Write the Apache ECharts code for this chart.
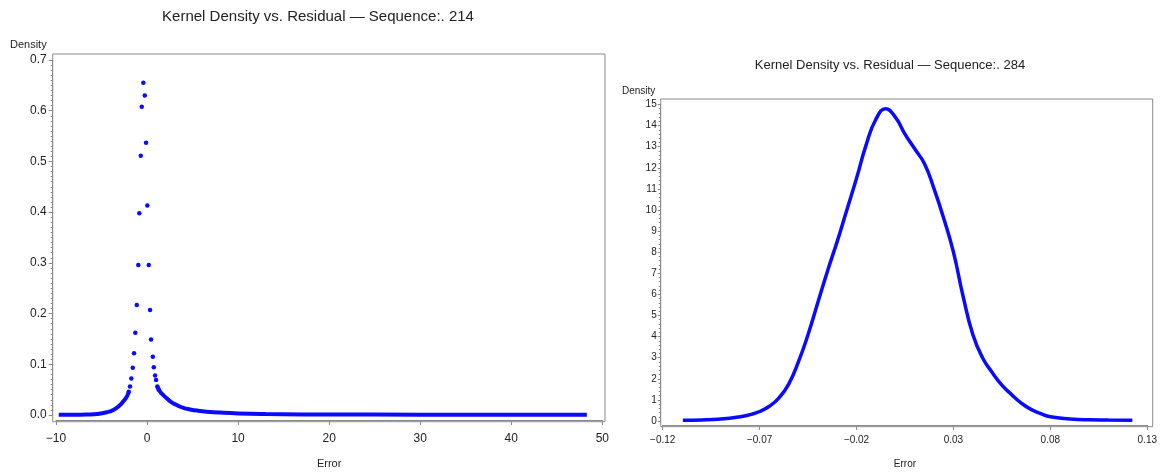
<!DOCTYPE html>
<html>
<head>
<meta charset="UTF-8">
<title>Kernel Density vs. Residual</title>
<style>
  html, body { margin: 0; padding: 0; background: #fff; }
  .box { width: 1160px; height: 474px; }
</style>
</head>
<body>
<div class="box" id="box"></div>
<script src="https://cdn.jsdelivr.net/npm/echarts@6/dist/echarts.min.js"></script>
<script>
// ---- Sequence 214 (left panel) ----
// separate dots around the peak [error, density]
var peak214 = [
  [-2.01, 0.046], [-1.87, 0.056], [-1.73, 0.072], [-1.57, 0.093], [-1.43, 0.122],
  [-1.29, 0.162], [-1.13, 0.217], [-0.96, 0.296], [-0.85, 0.398], [-0.69, 0.511],
  [-0.58, 0.608], [-0.41, 0.655], [-0.25, 0.630], [-0.11, 0.537], [0.03, 0.413],
  [0.19, 0.296], [0.33, 0.207], [0.44, 0.149], [0.63, 0.115], [0.74, 0.094],
  [0.88, 0.078], [0.99, 0.069], [1.13, 0.056], [1.28, 0.050]
];
// dense tails (dots so close they read as a thick line)
var leftTail214 = [
  [-9.7, 0.0005], [-8.0, 0.0005], [-6.5, 0.001], [-5.5, 0.002], [-4.43, 0.0053],
  [-3.7, 0.0098], [-2.97, 0.0196], [-2.6, 0.027], [-2.23, 0.036], [-2.01, 0.046]
];
var rightTail214 = [
  [1.13, 0.056], [1.43, 0.046], [1.8, 0.039], [2.16, 0.033], [2.7, 0.025],
  [3.26, 0.0196], [4.0, 0.014], [4.73, 0.011], [5.6, 0.0085], [6.56, 0.0066],
  [8.02, 0.0047], [10, 0.003], [13, 0.0018], [17, 0.0012], [25, 0.0008],
  [35, 0.0006], [48.3, 0.0005]
];
var xTicks214 = [-10, 0, 10, 20, 30, 40, 50];
var yTicks214 = [0, 0.1, 0.2, 0.3, 0.4, 0.5, 0.6, 0.7];

// ---- Sequence 284 (right panel) ----
var errors284 = [
  -0.1096, -0.100, -0.090, -0.080, -0.075, -0.070, -0.065, -0.060, -0.055, -0.050,
  -0.045, -0.040, -0.035, -0.030, -0.025, -0.020, -0.015, -0.010, -0.005, 0.000,
  0.005, 0.010, 0.015, 0.020, 0.025, 0.030, 0.035, 0.040, 0.045, 0.050,
  0.055, 0.060, 0.065, 0.070, 0.075, 0.080, 0.090, 0.100, 0.110, 0.1223
];
var density284 = [
  0.04, 0.05, 0.09, 0.2, 0.3, 0.45, 0.7, 1.1, 1.75, 2.8,
  4.1, 5.6, 7.1, 8.5, 10.0, 11.5, 13.1, 14.3, 14.8, 14.4,
  13.6, 12.9, 12.2, 11.0, 9.6, 8.0, 5.9, 4.1, 3.0, 2.3,
  1.7, 1.25, 0.85, 0.55, 0.35, 0.2, 0.1, 0.06, 0.05, 0.04
];
var xTicks284 = [-0.12, -0.07, -0.02, 0.03, 0.08, 0.13];
var yTicks284 = [0, 1, 2, 3, 4, 5, 6, 7, 8, 9, 10, 11, 12, 13, 14, 15];

var titles = ['Kernel Density vs. Residual \u2014 Sequence:. 214',
              'Kernel Density vs. Residual \u2014 Sequence:. 284'];

var FONT = '"Liberation Sans", Arial, sans-serif';
var AXIS_GRAY = '#8a8a8a';
var TEXT = '#222';
var BLUE = '#0a0aff';

function fmt(v, d) {
  var s = Math.abs(v).toFixed(d);
  return (v < -1e-9 ? '\u2212' : '') + s;
}

// right panel: shift x so the axis starts at 0 and ticks land on -0.12, -0.07, ...
var shift284 = -xTicks284[0];
var curve284 = errors284.map(function (e, i) { return [e + shift284, density284[i]]; });

var myChart = echarts.init(document.getElementById('box'));

function hiddenAxis(grid) {
  return { type: 'value', gridIndex: grid, show: false, min: 0, max: 1 };
}

var option = {
  backgroundColor: '#fff',
  animation: false,
  textStyle: { fontFamily: FONT },
  graphic: [
    { type: 'text', x: 318, y: 9, style: { text: titles[0], font: '15px ' + FONT, fill: TEXT, textAlign: 'center' } },
    { type: 'text', x: 10, y: 39, style: { text: 'Density', font: '11px ' + FONT, fill: TEXT } },
    { type: 'text', x: 890, y: 59, style: { text: titles[1], font: '13px ' + FONT, fill: TEXT, textAlign: 'center' } },
    { type: 'text', x: 622, y: 86, style: { text: 'Density', font: '10px ' + FONT, fill: TEXT } }
  ],
  grid: [
    // frames
    { left: 52.7, top: 54, width: 552.3, height: 367.7, show: true, borderColor: AXIS_GRAY, borderWidth: 1, backgroundColor: 'transparent' },
    { left: 56, top: 60, width: 546.3, height: 356.7 },
    { left: 660.7, top: 99, width: 492, height: 327.7, show: true, borderColor: AXIS_GRAY, borderWidth: 1, backgroundColor: 'transparent' },
    { left: 662.7, top: 104.5, width: 488, height: 318 }
  ],
  xAxis: [
    hiddenAxis(0),
    {
      type: 'value', gridIndex: 1,
      min: xTicks214[0], max: xTicks214[xTicks214.length - 1], interval: xTicks214[1] - xTicks214[0],
      offset: 5,
      name: 'Error', nameLocation: 'middle', nameGap: 38,
      nameTextStyle: { color: TEXT, fontSize: 11, fontFamily: FONT },
      axisLine: { show: true, onZero: false, lineStyle: { color: AXIS_GRAY } },
      axisTick: { show: true, length: 5, lineStyle: { color: AXIS_GRAY } },
      axisLabel: { color: TEXT, fontSize: 12, margin: 13, formatter: function (v) { return fmt(v, 0); } },
      splitLine: { show: false }
    },
    hiddenAxis(2),
    {
      type: 'value', gridIndex: 3,
      min: 0, max: xTicks284[xTicks284.length - 1] + shift284, interval: xTicks284[1] - xTicks284[0],
      offset: 4,
      name: 'Error', nameLocation: 'middle', nameGap: 34,
      nameTextStyle: { color: TEXT, fontSize: 10, fontFamily: FONT },
      axisLine: { show: true, onZero: false, lineStyle: { color: AXIS_GRAY } },
      axisTick: { show: true, length: 5, lineStyle: { color: AXIS_GRAY } },
      axisLabel: { color: TEXT, fontSize: 10, margin: 10, formatter: function (v) { return fmt(v - shift284, 2); } },
      splitLine: { show: false }
    }
  ],
  yAxis: [
    hiddenAxis(0),
    {
      type: 'value', gridIndex: 1,
      min: yTicks214[0], max: yTicks214[yTicks214.length - 1], interval: 0.1,
      offset: 3.3,
      axisLine: { show: true, onZero: false, lineStyle: { color: AXIS_GRAY } },
      axisTick: { show: true, length: 4, lineStyle: { color: AXIS_GRAY } },
      minorTick: { show: true, splitNumber: 10, length: 2, lineStyle: { color: AXIS_GRAY } },
      axisLabel: { color: TEXT, fontSize: 12, margin: 6, formatter: function (v) { return fmt(v, 1); } },
      splitLine: { show: false }
    },
    hiddenAxis(2),
    {
      type: 'value', gridIndex: 3,
      min: yTicks284[0], max: yTicks284[yTicks284.length - 1], interval: 1,
      offset: 2,
      axisLine: { show: true, onZero: false, lineStyle: { color: AXIS_GRAY } },
      axisTick: { show: true, length: 3, lineStyle: { color: AXIS_GRAY } },
      minorTick: { show: true, splitNumber: 5, length: 2, lineStyle: { color: AXIS_GRAY } },
      axisLabel: { color: TEXT, fontSize: 10, margin: 4 },
      splitLine: { show: false }
    }
  ],
  series: [
    {
      type: 'line', xAxisIndex: 1, yAxisIndex: 1, data: leftTail214,
      smooth: true, showSymbol: false, lineStyle: { color: BLUE, width: 4 }
    },
    {
      type: 'line', xAxisIndex: 1, yAxisIndex: 1, data: rightTail214,
      smooth: true, showSymbol: false, lineStyle: { color: BLUE, width: 4 }
    },
    {
      type: 'scatter', xAxisIndex: 1, yAxisIndex: 1, data: peak214,
      symbolSize: 4.5, itemStyle: { color: BLUE, opacity: 1 }
    },
    {
      type: 'line', xAxisIndex: 3, yAxisIndex: 3, data: curve284,
      smooth: true, showSymbol: false, lineStyle: { color: BLUE, width: 3.5 }
    }
  ]
};
myChart.setOption(option);
</script>
</body>
</html>
